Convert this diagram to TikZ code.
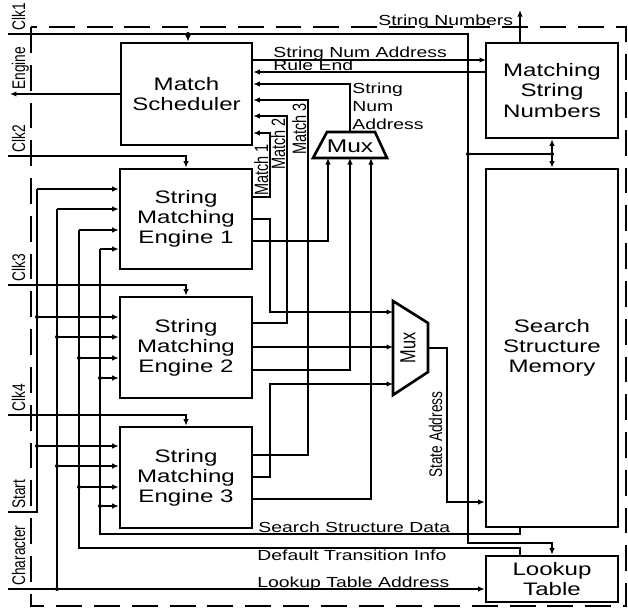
\documentclass[tikz,border=0pt]{standalone}
\usepackage{fontspec}
\setmainfont{Liberation Sans}
\newfontfamily\hfont[FakeStretch=1.33]{Liberation Sans}
\newfontfamily\vfont[FakeStretch=0.75]{Liberation Sans}
\usetikzlibrary{arrows.meta}

\begin{document}
\begin{tikzpicture}[x=0.02cm, y=-0.02cm,
    blk/.style={draw, line width=1.5pt, align=center, inner sep=0pt,
                font=\hfont\fontsize{10.3}{11.4}\selectfont},
    lbl/.style={inner sep=0pt, anchor=base west, font=\hfont\fontsize{8.3}{10.2}\selectfont},
    vlbl/.style={inner sep=0pt, rotate=90, anchor=base west, font=\vfont\fontsize{10.4}{12}\selectfont},
    wire/.style={line width=0.8pt},
    arr/.style={wire, -{Latex[length=1.3mm, width=1.1mm]}},
    dot/.style={circle, fill, inner sep=0pt, minimum size=0.08cm},
    mux/.style={line width=1.5pt}
  ]
  \useasboundingbox (0,0) rectangle (628,609);

  % outer border
  \draw[line width=1.5pt, dash pattern=on 14.7pt off 6.8pt] (31,27) rectangle (626,606);

  \node[blk, minimum width=2.62cm, minimum height=2.04cm] (ms)   at (186.5,94)  {Match\\Scheduler};
  \node[blk, minimum width=2.64cm, minimum height=1.90cm] (msn)  at (552,90.5)  {Matching\\String\\Numbers};
  \node[blk, minimum width=2.64cm, minimum height=7.16cm] (ssm)  at (552,348)   {Search\\Structure\\Memory};
  \node[blk, minimum width=2.64cm, minimum height=0.92cm] (lt)   at (552,579)   {Lookup\\Table};
  \node[blk, minimum width=2.64cm, minimum height=2.00cm] (sme1) at (186,219)   {String\\Matching\\Engine 1};
  \node[blk, minimum width=2.64cm, minimum height=2.02cm] (sme2) at (186,347.5) {String\\Matching\\Engine 2};
  \node[blk, minimum width=2.64cm, minimum height=2.02cm] (sme3) at (186,477.5) {String\\Matching\\Engine 3};

  % the two multiplexers
  \draw[mux] (313,158) -- (327,132) -- (375,132) -- (387,158) -- cycle;
  \node[inner sep=0pt, font=\hfont\fontsize{10.5}{12}\selectfont] (mux1) at (350,146) {Mux};
  \draw[mux] (393,301) -- (428,323) -- (428,372) -- (393,395) -- cycle;
  \node[inner sep=0pt, rotate=90, font=\vfont\fontsize{12.4}{14}\selectfont] (mux2) at (408,348) {Mux};
  \coordinate (m1a) at (328,158);
  \coordinate (m1b) at (350,158);
  \coordinate (m1c) at (371,158);
  \coordinate (m1o) at (350,132);
  \coordinate (m2a) at (393,312);
  \coordinate (m2b) at (393,347);
  \coordinate (m2c) at (393,384);
  \coordinate (m2o) at (428,348);

  % signals at the left edge
  \coordinate (clk1)  at (8,34);
  \coordinate (eng)   at (10,94);
  \coordinate (clk2)  at (8,156);
  \coordinate (clk3)  at (8,285);
  \coordinate (clk4)  at (8,415);
  \coordinate (start) at (8,512);
  \coordinate (char)  at (8,589);
  \node[vlbl] (lclk1)  at (25,31)  {Clk1};
  \node[vlbl] (leng)   at (25,90)  {Engine};
  \node[vlbl] (lclk2)  at (25,153) {Clk2};
  \node[vlbl] (lclk3)  at (25,282) {Clk3};
  \node[vlbl] (lclk4)  at (25,412) {Clk4};
  \node[vlbl] (lstart) at (25,509) {Start};
  \node[vlbl] (lchar)  at (25,586) {Character};

  % Clk1 to scheduler, string numbers, memory and lookup table
  \node[dot] (dms)  at (188,34)  {};
  \node[dot] (dmem) at (468,154) {};
  \node[dot] (dmsn) at (552,154) {};
  \coordinate (ck1) at (468,34);
  \coordinate (ltin) at (468,543);
  \draw[wire] (clk1) -- (ck1) -- (dmem);
  \draw[arr] (dmem) -- (ltin) -| (lt.north);
  \draw[arr] (dms) -- (dms |- ms.north);
  \draw[wire] (dmem) -- (dmsn);
  \draw[arr] (dmsn) -- (msn.south);
  \draw[arr] (dmsn) -- (ssm.north);

  \draw[arr] (ms.west) -- (eng);
  \draw[arr] (clk2) -| (sme1.north);
  \draw[arr] (clk3) -| (sme2.north);
  \draw[arr] (clk4) -| (sme3.north);

  % Start
  \coordinate (ds1) at (37,189);
  \node[dot] (ds2) at (37,317) {};
  \node[dot] (ds3) at (37,446) {};
  \draw[wire] (start) -| (ds1);
  \draw[arr] (ds1) -- (ds1 -| sme1.west);
  \draw[arr] (ds2) -- (ds2 -| sme2.west);
  \draw[arr] (ds3) -- (ds3 -| sme3.west);

  % Character
  \node[dot] (dc0) at (57,589) {};
  \coordinate (dc1) at (57,209);
  \node[dot] (dc2) at (57,337) {};
  \node[dot] (dc3) at (57,466) {};
  \draw[arr] (char) -- (char -| lt.west);
  \draw[wire] (dc0) -- (dc1);
  \draw[arr] (dc1) -- (dc1 -| sme1.west);
  \draw[arr] (dc2) -- (dc2 -| sme2.west);
  \draw[arr] (dc3) -- (dc3 -| sme3.west);

  % Default Transition Info
  \coordinate (dt0) at (520,548);
  \coordinate (dt1) at (79,230);
  \node[dot] (dt2) at (79,358) {};
  \node[dot] (dt3) at (79,487) {};
  \draw[wire] (dt0 |- lt.north) -- (dt0) -| (dt1);
  \draw[arr] (dt1) -- (dt1 -| sme1.west);
  \draw[arr] (dt2) -- (dt2 -| sme2.west);
  \draw[arr] (dt3) -- (dt3 -| sme3.west);

  % Search Structure Data
  \coordinate (sd0) at (520,534);
  \coordinate (sd1) at (100,249);
  \node[dot] (sd2) at (100,378) {};
  \node[dot] (sd3) at (100,506) {};
  \draw[wire] (sd0 |- ssm.south) -- (sd0) -| (sd1);
  \draw[arr] (sd1) -- (sd1 -| sme1.west);
  \draw[arr] (sd2) -- (sd2 -| sme2.west);
  \draw[arr] (sd3) -- (sd3 -| sme3.west);

  % scheduler and string numbers
  \coordinate (sna) at (486,60);
  \coordinate (re)  at (486,72);
  \coordinate (m1r) at (350,84);
  \draw[arr] (sna -| ms.east) -- (sna);
  \draw[arr] (re) -- (re -| ms.east);
  \draw[arr] (m1o) -- (m1r) -- (m1r -| ms.east);
  \coordinate (snout) at (520,10);
  \draw[arr] (snout |- msn.north) -- (snout);

  % match lines
  \coordinate (k1) at (270,133);
  \coordinate (k2) at (287,116);
  \coordinate (k3) at (308,100);
  \coordinate (o1) at (270,197);
  \coordinate (o2) at (287,323);
  \coordinate (o3) at (308,455);
  \draw[arr] (o1 -| sme1.east) -- (o1) -- (k1) -- (k1 -| ms.east);
  \draw[arr] (o2 -| sme2.east) -- (o2) -- (k2) -- (k2 -| ms.east);
  \draw[arr] (o3 -| sme3.east) -- (o3) -- (k3) -- (k3 -| ms.east);

  % engines to the multiplexers
  \coordinate (p1) at (270,219);
  \coordinate (q1) at (328,241);
  \coordinate (q2) at (350,370);
  \coordinate (p3) at (270,477);
  \coordinate (q3) at (371,499);
  \draw[arr] (p1 -| sme1.east) -- (p1) |- (m2a);
  \draw[arr] (q1 -| sme1.east) -- (q1) -- (m1a);
  \draw[arr] (m2b -| sme2.east) -- (m2b);
  \draw[arr] (q2 -| sme2.east) -- (q2) -- (m1b);
  \draw[arr] (p3 -| sme3.east) -- (p3) |- (m2c);
  \draw[arr] (q3 -| sme3.east) -- (q3) -- (m1c);

  \coordinate (sa) at (447,502);
  \draw[arr] (m2o) -| (sa) -- (sa -| ssm.west);

  % labels
  \node[lbl] (lsna)  at (273,57)   {String Num Address};
  \node[lbl] (lre)   at (273,70.5) {Rule End};
  \node[lbl, anchor=north west, align=left] (lsna2) at (352,83) {String\\Num\\Address};
  \node[lbl] (lsn)   at (378,25)   {String Numbers};
  \node[lbl] (lssd)  at (258,532)  {Search Structure Data};
  \node[lbl] (ldti)  at (257,560)  {Default Transition Info};
  \node[lbl] (llta)  at (257,587)  {Lookup Table Address};
  \node[vlbl, font=\vfont\fontsize{11}{12}\selectfont] (lm1) at (268,196) {Match 1};
  \node[vlbl, font=\vfont\fontsize{11}{12}\selectfont] (lm2) at (285,170) {Match 2};
  \node[vlbl, font=\vfont\fontsize{11}{12}\selectfont] (lm3) at (306,155) {Match 3};
  \node[vlbl] (lsa) at (442,478) {State Address};
\end{tikzpicture}
\end{document}
